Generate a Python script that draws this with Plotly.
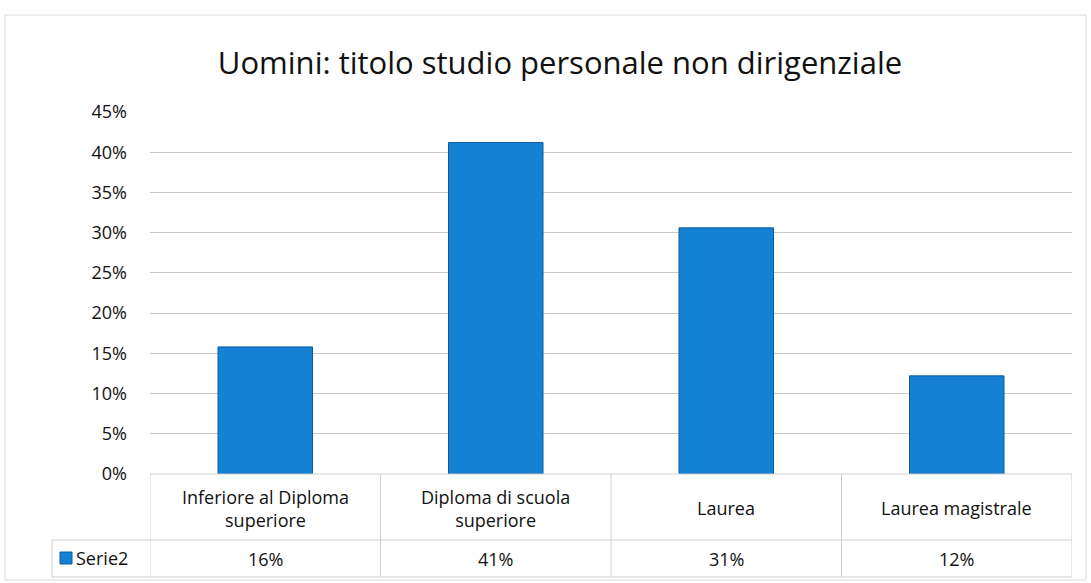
import plotly.graph_objects as go

categories = ["Inferiore al Diploma<br>superiore", "Diploma di scuola<br>superiore", "Laurea", "Laurea magistrale"]
values = [0.158, 0.412, 0.306, 0.122]
series_name = "Serie2"
table_labels = ["16%", "41%", "31%", "12%"]
title_text = "Uomini: titolo studio personale non dirigenziale"
tick_vals = [0, 0.05, 0.10, 0.15, 0.20, 0.25, 0.30, 0.35, 0.40, 0.45]

W, H = 1091, 583
L, R, T, B = 150, 1072, 112, 474
FONT = "Open Sans"
BAR = "#1581D3"
TXT = "#111111"

def py(ypx):
    return (B - ypx) / (B - T)

def px(xpx):
    return (xpx - L) / (R - L)

x_idx = list(range(len(categories)))

fig = go.Figure()
fig.add_trace(go.Bar(
    x=x_idx, y=values, name=series_name,
    marker=dict(color=BAR, line=dict(color="#0B5C9E", width=1)),
    showlegend=False,
))

shapes = []
grid = "#C8C8C8"
line_c = "#CFCFCF"
# outer border
shapes.append(dict(type="rect", xref="paper", yref="paper", x0=px(5), x1=px(1086), y0=py(15), y1=py(580),
                   line=dict(color="#DADADA", width=1)))
# table horizontal lines
shapes.append(dict(type="line", xref="x", yref="paper", x0=-0.5, x1=len(categories) - 0.5, y0=py(B), y1=py(B),
                   line=dict(color=line_c, width=1)))
for yy in (540, 577):
    shapes.append(dict(type="line", xref="paper", yref="paper", x0=px(52), x1=1, y0=py(yy), y1=py(yy),
                       line=dict(color=line_c, width=1)))
# vertical lines
for i in range(len(categories) + 1):
    shapes.append(dict(type="line", xref="x", yref="paper", x0=i - 0.5, x1=i - 0.5, y0=py(B), y1=py(577),
                       line=dict(color=line_c, width=1)))
shapes.append(dict(type="line", xref="paper", yref="paper", x0=px(52), x1=px(52), y0=py(540), y1=py(577),
                   line=dict(color=line_c, width=1)))
# legend key
shapes.append(dict(type="rect", xref="paper", yref="paper", x0=px(60), x1=px(72), y0=py(552), y1=py(564),
                   fillcolor=BAR, line=dict(color="#0B5C9E", width=1)))

annotations = []
for i, (c, t) in enumerate(zip(categories, table_labels)):
    annotations.append(dict(x=i, xref="x", y=py(508), yref="paper", text=c, showarrow=False,
                            font=dict(family=FONT, size=18, color=TXT), xanchor="center", yanchor="middle"))
    annotations.append(dict(x=i, xref="x", y=py(559), yref="paper", text=t, showarrow=False,
                            font=dict(family=FONT, size=18, color=TXT), xanchor="center", yanchor="middle"))
annotations.append(dict(x=px(74), xref="paper", y=py(558), yref="paper", text=series_name, showarrow=False,
                        font=dict(family=FONT, size=18, color=TXT), xanchor="left", yanchor="middle"))

fig.update_layout(
    width=W, height=H,
    margin=dict(l=L, r=W - R, t=T, b=H - B, pad=0),
    paper_bgcolor="white", plot_bgcolor="white",
    title=dict(text=title_text, x=560 / W, xanchor="center", y=1 - 63 / H, yanchor="middle",
               font=dict(family=FONT, size=31, color=TXT)),
    bargap=0.59,
    xaxis=dict(range=[-0.5, len(categories) - 0.5], showticklabels=False, showgrid=False, zeroline=False,
               showline=False, ticks=""),
    yaxis=dict(range=[0, 0.45], tickvals=tick_vals, tickformat=".0%", showgrid=True, gridcolor=grid,
               gridwidth=1, zeroline=False, showline=False, ticks="", ticklabelstandoff=22,
               tickfont=dict(family=FONT, size=18, color=TXT)),
    shapes=shapes, annotations=annotations,
)

fig.write_html("out.html")
